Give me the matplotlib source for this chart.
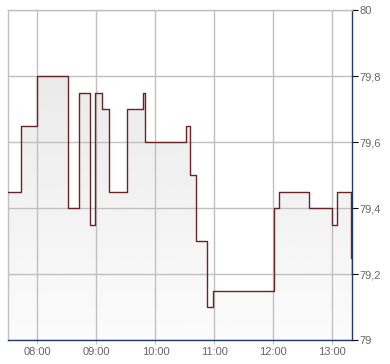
import matplotlib.pyplot as plt
import numpy as np
from matplotlib.patches import Polygon

# data: minutes since midnight, price (step "post")
minutes = [450, 463, 480, 511, 522, 533, 539, 546, 553, 571.5, 587, 589,
           631.5, 635.5, 641, 641.5, 652, 659, 721, 726, 756.5, 779.5,
           784.5, 798.7, 799.5, 800.3]
prices = [79.45, 79.65, 79.80, 79.40, 79.75, 79.35, 79.75, 79.70, 79.45,
          79.70, 79.75, 79.60, 79.65, 79.50, 79.35, 79.30, 79.10, 79.15,
          79.40, 79.45, 79.40, 79.35, 79.45, 79.25, 79.20, 79.20]
xtick_min = [480, 540, 600, 660, 720, 780]
xtick_lab = ['08:00', '09:00', '10:00', '11:00', '12:00', '13:00']
ytick_val = [79, 79.2, 79.4, 79.6, 79.8, 80]
ytick_lab = ['79', '79,2', '79,4', '79,6', '79,8', '80']

plt.rcParams['font.family'] = ['Liberation Sans', 'DejaVu Sans']

fig = plt.figure(figsize=(3.9, 3.64), dpi=100)
ax = fig.add_axes([8 / 390, 1 - 340.3 / 364, 344.3 / 390, 330 / 364])

x0, x1 = 450, 800.3
y0, y1 = 79, 80

# step outline
sx, sy = [], []
for i in range(len(minutes) - 1):
    sx += [minutes[i], minutes[i + 1]]
    sy += [prices[i], prices[i]]
sx.append(minutes[-1])
sy.append(prices[-1])

# gradient fill under the line
poly = Polygon(list(zip(sx, sy)) + [(sx[-1], y0), (sx[0], y0)],
               closed=True, facecolor='none', edgecolor='none')
ax.add_patch(poly)
grad = np.linspace(0.985, 0.90, 256).reshape(-1, 1)
img = ax.imshow(grad, extent=[x0, x1, y0, y1], origin='lower', aspect='auto',
                cmap='gray', vmin=0, vmax=1, zorder=1)
img.set_clip_path(poly)

ax.plot(sx, sy, color='#6b2326', linewidth=1.0, zorder=3)

ax.set_xlim(x0, x1)
ax.set_ylim(y0, y1)
ax.set_xticks(xtick_min)
ax.set_xticklabels(xtick_lab)
ax.set_yticks(ytick_val)
ax.set_yticklabels(ytick_lab)
ax.yaxis.tick_right()
ax.grid(True, color='#c0c0c0', linewidth=1, zorder=2)
ax.set_axisbelow('line')

for s in ['left', 'top']:
    ax.spines[s].set_color('#c0c0c0')
    ax.spines[s].set_linewidth(1)
for s in ['right', 'bottom']:
    ax.spines[s].set_color('#1f3864')
    ax.spines[s].set_linewidth(1.0)

ax.tick_params(axis='x', length=3, color='#c0c0c0', labelsize=8,
               labelcolor='#666666', pad=2)
ax.tick_params(axis='y', length=4, color='black', labelsize=8,
               labelcolor='#666666', pad=1)

fig.savefig('out.png', dpi=100)
